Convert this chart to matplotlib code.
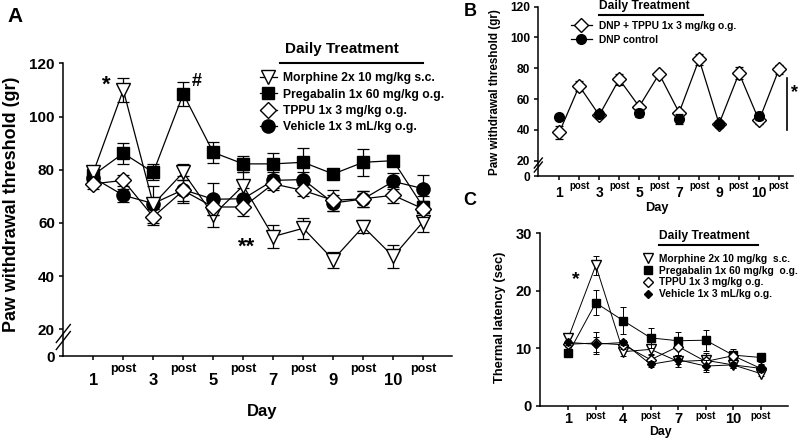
import numpy as np
import matplotlib
matplotlib.use('Agg')
import matplotlib.pyplot as plt
from matplotlib.lines import Line2D

plt.rcParams['font.family'] = ['Liberation Sans', 'DejaVu Sans']
plt.rcParams['font.weight'] = 'bold'
plt.rcParams['axes.linewidth'] = 1.1

# ---- panel A: paw withdrawal threshold (gr), 12 time points
days_a = ['1', '3', '5', '7', '9', '10']
morph_a = [79, 110, 67, 79, 63, 74, 54.9, 58, 46.2, 58.6, 47.4, 60.5]
morph_a_err = [2, 4.5, 7, 3, 4.5, 5, 4.5, 4, 3, 2.5, 4.5, 4]
preg_a = [78, 86.2, 79, 108.5, 86.5, 82.2, 82.2, 82.8, 78.4, 82.8, 83.4, 66]
preg_a_err = [3, 4, 3, 4.5, 4, 3, 4, 5.5, 1.5, 5, 2, 4]
tppu_a = [74.7, 76, 62.3, 72.2, 66, 66, 74.7, 72.2, 68.5, 69.1, 70.4, 65.3]
tppu_a_err = [2, 2, 3, 4, 3, 3.5, 2.5, 2, 4, 3, 3, 3]
veh_a = [77, 70.4, 67.3, 72.5, 68.9, 69.1, 76, 76.3, 67.5, 69, 75.6, 72.9]
veh_a_err = [2, 2.5, 2, 5, 6, 4, 3, 3, 3, 3, 3, 5]

# ---- panel B: DNP model
days_b = ['1', '3', '5', '7', '9', '10']
tppu_b = [38.3, 68.5, 49.5, 72.9, 55.1, 76.3, 51.2, 85.8, 43.9, 76.8, 46.1, 79.4]
tppu_b_err = [4, 3.5, 2, 3.5, 2, 2, 2, 3.5, 2, 4, 2.5, 3]
dnp_b = [48.2, 50.2, 50.8, 47.1, 43.7, 49.1]
dnp_b_err = [2, 2, 2.5, 3.5, 2, 2.5]

# ---- panel C: thermal latency (sec), 8 time points
days_c = ['1', '4', '7', '10']
morph_c = [11.8, 24.4, 9.4, 9.8, 7.7, 7.9, 7.1, 5.6]
morph_c_err = [0.8, 1.6, 0.8, 1.0, 1.0, 0.8, 0.6, 0.5]
preg_c = [9.1, 17.9, 14.8, 11.8, 11.3, 11.4, 8.8, 8.4]
preg_c_err = [0.3, 2.2, 2.3, 1.7, 1.5, 1.8, 0.8, 0.8]
tppu_c = [10.7, 10.9, 10.6, 8.0, 10.3, 7.7, 8.7, 6.5]
tppu_c_err = [0.5, 1.9, 0.8, 1.0, 1.5, 1.5, 1.2, 0.7]
veh_c = [11.0, 10.7, 11.0, 7.2, 8.0, 6.9, 7.1, 6.5]
veh_c_err = [0.5, 1.3, 0.5, 0.5, 0.8, 1.0, 0.5, 0.5]

W, H = 800, 440


def fx(px):
    return px / W


def fy(py):
    return 1 - py / H


def brk_fwd(y):
    y = np.asarray(y, float)
    return np.where(y < 20, 20 - (20 - y) * 0.5, y)


def brk_inv(y):
    y = np.asarray(y, float)
    return np.where(y < 20, 20 - (20 - y) / 0.5, y)


def series(ax, y, err, marker, ms, fill, label, cap, lw=0.9, line=True):
    x = np.arange(len(y))
    ax.errorbar(x, y, yerr=err, fmt='none', ecolor='k', elinewidth=lw,
                capsize=cap, capthick=lw)
    ax.plot(x, y, marker=marker, ms=ms, mfc=fill, mec='k', mew=1.0,
            color='k', lw=lw if line else 0, ls='-' if line else 'none',
            label=label)


def style(ax, numsize, postsize, numpad, postpad, ysize):
    for s in ['top', 'right']:
        ax.spines[s].set_visible(False)
    ax.tick_params(axis='y', length=3, width=1.1, labelsize=ysize, pad=3)
    ax.tick_params(axis='x', which='major', length=3, width=1.1,
                   labelsize=numsize, pad=numpad)
    ax.tick_params(axis='x', which='minor', length=3, width=1.1,
                   labelsize=postsize, pad=postpad)


def header(cx, cy, x0, x1, ly, size):
    fig.text(fx(cx), fy(cy), 'Daily Treatment', ha='center', va='center',
             fontsize=size)
    fig.add_artist(Line2D([fx(x0), fx(x1)], [fy(ly), fy(ly)], color='k',
                          lw=1.5, transform=fig.transFigure))


def slashes(cx, cy, dx, dy, sep):
    for off in (-sep / 2, sep / 2):
        fig.add_artist(Line2D([fx(cx - dx), fx(cx + dx)],
                              [fy(cy + dy + off), fy(cy - dy + off)],
                              color='k', lw=1.0, transform=fig.transFigure))


fig = plt.figure(figsize=(8, 4.4), dpi=100)

# ================= A
axA = fig.add_axes([fx(63.3), fy(356), fx(451.7 - 63.3), (356 - 63.3) / H])
axA.set_yscale('function', functions=(brk_fwd, brk_inv))
series(axA, preg_a, preg_a_err, 's', 9, 'k', 'Pregabalin 1x 60 mg/kg o.g.', 4)
series(axA, veh_a, veh_a_err, 'o', 9.5, 'k', 'Vehicle 1x 3 mL/kg o.g.', 4)
series(axA, morph_a, morph_a_err, 'v', 10.5, 'white', 'Morphine 2x 10 mg/kg s.c.', 4)
series(axA, tppu_a, tppu_a_err, 'D', 8, 'white', 'TPPU 1x 3 mg/kg o.g.', 4)
axA.set_xlim(-1, 11.95)
axA.set_ylim(0, 120)
axA.set_yticks([0, 20, 40, 60, 80, 100, 120])
axA.set_yticklabels(['0', '20', '40', '60', '80', '100', '120'])
axA.set_xticks(np.arange(0, 12, 2), labels=days_a)
axA.set_xticks(np.arange(1, 12, 2), labels=['post'] * 6, minor=True)
style(axA, 12, 9, 9.4, 2.2, 11)
h, l = axA.get_legend_handles_labels()
order = [2, 0, 3, 1]
axA.legend([h[i] for i in order], [l[i] for i in order], loc='upper left',
           bbox_to_anchor=(fx(260), fy(72.3)), bbox_transform=fig.transFigure,
           frameon=False, borderpad=0, borderaxespad=0, fontsize=8.7,
           handlelength=1.38, handletextpad=0.5, labelspacing=0.36)
header(341.7, 49.3, 280, 423, 62.7, 11)
axA.text(0.42, 111.9, '*', fontsize=16, ha='center', va='center')
axA.text(3.45, 113, '#', fontsize=13, ha='center', va='center')
axA.text(5.1, 51, '**', fontsize=16, ha='center', va='center')
slashes(63.3, 337, 7, 9, 7)
fig.text(fx(12), fy(204), 'Paw withdrawal threshold (gr)', rotation=90,
         ha='center', va='center', fontsize=12.9)
fig.text(fx(261.7), fy(411.7), 'Day', ha='center', va='center', fontsize=12)
fig.text(fx(15), fy(17), 'A', ha='center', va='center', fontsize=15)

# ================= B
axB = fig.add_axes([fx(538.3), fy(176), fx(793 - 538.3), (176 - 6.7) / H])
axB.set_yscale('function', functions=(brk_fwd, brk_inv))
series(axB, tppu_b, tppu_b_err, 'D', 7, 'white', 'DNP + TPPU 1x 3 mg/kg o.g.', 3)
xb = np.arange(0, 12, 2)
axB.errorbar(xb, dnp_b, yerr=dnp_b_err, fmt='none', ecolor='k',
             elinewidth=0.9, capsize=3, capthick=0.9)
axB.plot(xb, dnp_b, 'o', ms=7, color='k', ls='none')
axB.set_xlim(-1.05, 11.7)
axB.set_ylim(0, 120)
axB.set_yticks([0, 20, 40, 60, 80, 100, 120])
axB.set_yticklabels(['0', '20', '40', '60', '80', '100', '120'])
axB.set_xticks(np.arange(0, 12, 2), labels=days_b)
axB.set_xticks(np.arange(1, 12, 2), labels=['post'] * 6, minor=True)
style(axB, 10, 7, 4.4, 0.5, 8.6)
hb = [axB.get_legend_handles_labels()[0][0],
      Line2D([], [], marker='o', ms=7, color='k', lw=0.9)]
axB.legend(hb, ['DNP + TPPU 1x 3 mg/kg o.g.', 'DNP control'],
           loc='upper left', bbox_to_anchor=(fx(571), fy(20.7)),
           bbox_transform=fig.transFigure, frameon=False, borderpad=0,
           borderaxespad=0, fontsize=7.4, handlelength=2.0,
           handletextpad=0.7, labelspacing=0.39)
header(644.7, 6, 599.3, 703.3, 15, 8.7)
axB.plot([0.975, 0.975], [73.4, 39.8], color='k', lw=1.2,
         transform=axB.get_yaxis_transform(), clip_on=False)
axB.text(11.8, 64, '*', fontsize=13, ha='center', va='center')
slashes(538.3, 165, 4, 5, 4)
fig.text(fx(495), fy(92), 'Paw withdrawal threshold (gr)', rotation=90,
         ha='center', va='center', fontsize=8.4)
fig.text(fx(656.7), fy(208), 'Day', ha='center', va='center', fontsize=9.2)
fig.text(fx(470), fy(11), 'B', ha='center', va='center', fontsize=13)

# ================= C
axC = fig.add_axes([fx(540), fy(405.7), fx(788 - 540), (405.7 - 233.3) / H])
series(axC, morph_c, morph_c_err, 'v', 6.5, 'white', 'Morphine 2x 10 mg/kg  s.c.', 2.5, 0.7)
series(axC, preg_c, preg_c_err, 's', 6, 'k', 'Pregabalin 1x 60 mg/kg  o.g.', 2.5, 0.7)
series(axC, tppu_c, tppu_c_err, 'D', 5, 'white', 'TPPU 1x 3 mg/kg o.g.', 2.5, 0.7)
series(axC, veh_c, veh_c_err, 'D', 4.5, 'k', 'Vehicle 1x 3 mL/kg o.g.', 2.5, 0.7)
axC.set_xlim(-1.03, 8.0)
axC.set_ylim(0, 30)
axC.set_yticks([0, 10, 20, 30])
axC.set_xticks(np.arange(0, 8, 2), labels=days_c)
axC.set_xticks(np.arange(1, 8, 2), labels=['post'] * 4, minor=True)
style(axC, 10.5, 7, 1.2, 0.6, 10.5)
hc = [Line2D([], [], marker=m, ms=s, mfc=f, mec='k', ls='none')
      for m, s, f in [('v', 6.5, 'white'), ('s', 6, 'k'),
                      ('D', 5, 'white'), ('D', 4.5, 'k')]]
axC.legend(hc, axC.get_legend_handles_labels()[1], loc='upper left',
           bbox_to_anchor=(fx(643), fy(254)), bbox_transform=fig.transFigure,
           frameon=False, borderpad=0, borderaxespad=0, fontsize=7.4,
           handlelength=1.0, handletextpad=0.6, labelspacing=0.17)
header(704.7, 236, 659.3, 757.7, 245, 8.7)
axC.text(0.28, 21.9, '*', fontsize=14, ha='center', va='center')
fig.text(fx(500), fy(317.5), 'Thermal latency (sec)', rotation=90,
         ha='center', va='center', fontsize=9.3)
fig.text(fx(660), fy(431.7), 'Day', ha='center', va='center', fontsize=8.8)
fig.text(fx(470), fy(200), 'C', ha='center', va='center', fontsize=13)

fig.savefig('out.png', dpi=100)
